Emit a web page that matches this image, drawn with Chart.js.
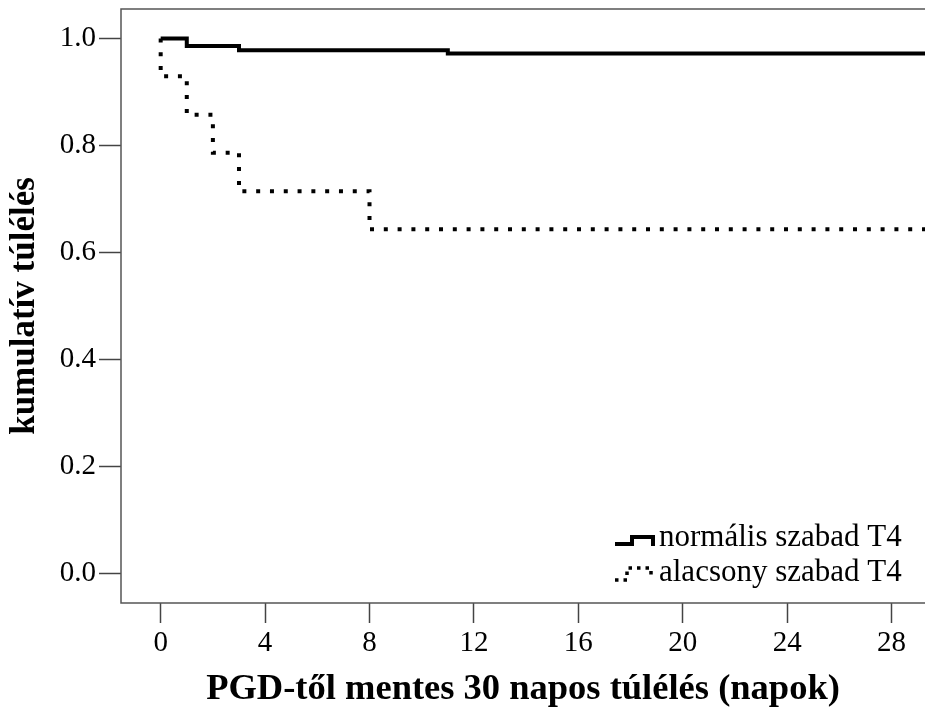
<!DOCTYPE html>
<html>
<head>
<meta charset="utf-8">
<script src="https://cdn.jsdelivr.net/npm/chart.js@4.4.1/dist/chart.umd.min.js"></script>
<style>
  html, body { margin: 0; padding: 0; background: #fff; }
  #wrap { width: 925px; height: 711px; }
</style>
</head>
<body>
<div id="wrap"><canvas id="kmChart"></canvas></div>
<script>
// Kaplan-Meier steps (day, cumulative survival)
const normalDays = [0, 1, 3, 11, 30];
const normalSurvival = [1.0, 0.986, 0.978, 0.972, 0.972];
const lowDays = [0, 0, 1, 2, 3, 8, 30];
const lowSurvival = [1.0, 0.929, 0.857, 0.786, 0.714, 0.643, 0.643];
const seriesLabels = ["normális szabad T4", "alacsony szabad T4"];
const xTicks = [0, 4, 8, 12, 16, 20, 24, 28];
const yTicks = [0, 0.2, 0.4, 0.6, 0.8, 1.0];

const toPoints = (xs, ys) => xs.map((x, i) => ({ x: x, y: ys[i] }));

Chart.defaults.font.family = "'Liberation Serif', 'Times New Roman', serif";
Chart.defaults.color = "#000";

// box round the plot area
const frame = {
  id: "frame",
  beforeDatasetsDraw(chart) {
    const { ctx, chartArea: a } = chart;
    ctx.save();
    ctx.strokeStyle = "#555";
    ctx.lineWidth = 1.5;
    ctx.strokeRect(a.left, a.top, a.right - a.left + 2, a.bottom - a.top);
    ctx.restore();
  }
};

// legend drawn inside the bottom right corner of the plot
const insideLegend = {
  id: "insideLegend",
  afterDraw(chart) {
    const { ctx, chartArea: a } = chart;
    const tx = a.right - 266;
    const base1 = a.bottom - 57;
    const base2 = a.bottom - 22;
    ctx.save();
    ctx.strokeStyle = "#000";
    ctx.lineCap = "butt";

    ctx.lineWidth = 4;
    ctx.beginPath();
    ctx.moveTo(tx - 44, base1 - 2);
    ctx.lineTo(tx - 27, base1 - 2);
    ctx.lineTo(tx - 27, base1 - 9);
    ctx.lineTo(tx - 6, base1 - 9);
    ctx.lineTo(tx - 6, base1 + 0);
    ctx.stroke();

    ctx.lineWidth = 3.5;
    ctx.setLineDash([3.5, 5]);
    ctx.beginPath();
    ctx.moveTo(tx - 44, base2 - 1);
    ctx.lineTo(tx - 32, base2 - 1);
    ctx.lineTo(tx - 32, base2 - 13);
    ctx.lineTo(tx - 8, base2 - 13);
    ctx.lineTo(tx - 8, base2 - 6);
    ctx.stroke();
    ctx.setLineDash([]);

    ctx.fillStyle = "#000";
    ctx.font = "31px 'Liberation Serif', serif";
    ctx.textBaseline = "alphabetic";
    ctx.textAlign = "left";
    ctx.fillText(chart.data.datasets[0].label, tx, base1);
    ctx.fillText(chart.data.datasets[1].label, tx, base2);
    ctx.restore();
  }
};

new Chart(document.getElementById("kmChart"), {
  type: "line",
  data: {
    datasets: [
      {
        label: seriesLabels[0],
        data: toPoints(normalDays, normalSurvival),
        borderColor: "#000",
        borderWidth: 4,
        stepped: "before",
        pointRadius: 0,
        fill: false
      },
      {
        label: seriesLabels[1],
        data: toPoints(lowDays, lowSurvival),
        borderColor: "#000",
        borderWidth: 4,
        borderDash: [4, 9.8],
        borderCapStyle: "butt",
        stepped: "before",
        pointRadius: 0,
        fill: false
      }
    ]
  },
  options: {
    responsive: true,
    maintainAspectRatio: false,
    animation: false,
    layout: { padding: { top: 9, right: 0, left: 0, bottom: 0 } },
    plugins: {
      legend: { display: false },
      tooltip: { enabled: false }
    },
    scales: {
      x: {
        type: "linear",
        min: -1.52,
        max: 29.28,
        afterBuildTicks: (s) => { s.ticks = xTicks.map((v) => ({ value: v })); },
        afterFit: (s) => { s.height = 108; s.paddingLeft = 0; s.paddingRight = 0; },
        grid: { drawOnChartArea: false, drawTicks: true, tickLength: 20, tickColor: "#444", tickWidth: 1.5 },
        border: { display: false },
        ticks: { font: { size: 29 }, padding: 3, maxRotation: 0 },
        title: {
          display: true,
          text: "PGD-től mentes 30 napos túlélés (napok)",
          font: { size: 36.5, weight: "bold" },
          padding: { top: 0, bottom: 0 }
        }
      },
      y: {
        type: "linear",
        min: -0.056,
        max: 1.055,
        afterBuildTicks: (s) => { s.ticks = yTicks.map((v) => ({ value: v })); },
        afterFit: (s) => { s.width = 121; s.paddingTop = 0; s.paddingBottom = 0; },
        grid: { drawOnChartArea: false, drawTicks: true, tickLength: 22, tickColor: "#444", tickWidth: 1.5 },
        border: { display: false },
        ticks: { font: { size: 29 }, padding: 3, callback: (v) => v.toFixed(1) },
        title: {
          display: true,
          text: "kumulatív túlélés",
          font: { size: 35, weight: "bold" },
          padding: { top: 4, bottom: 0 }
        }
      }
    }
  },
  plugins: [frame, insideLegend]
});
</script>
</body>
</html>
